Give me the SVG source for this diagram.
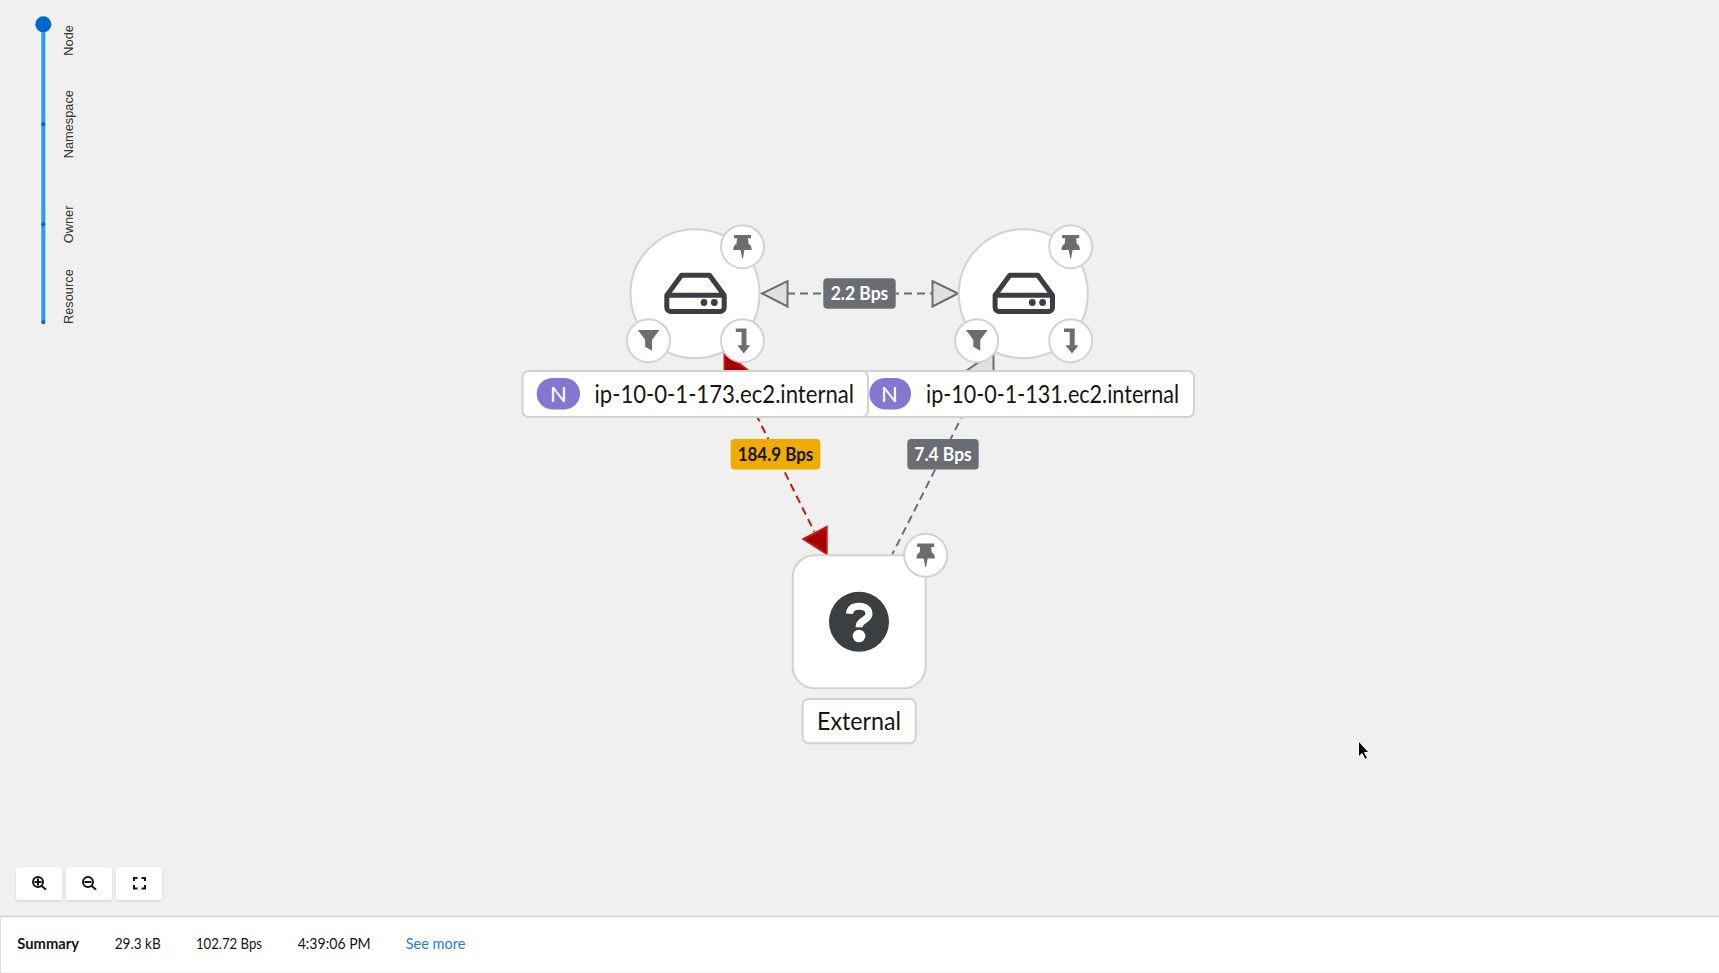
<svg xmlns="http://www.w3.org/2000/svg" xmlns:xlink="http://www.w3.org/1999/xlink" width="1719" height="973" viewBox="0 0 1719 973">
<style>
text{font-family:"Lato","Open Sans",sans-serif}
.node{fill:#fff;stroke:#d2d2d2;stroke-width:2}
.badge{fill:#fff;stroke:#d2d2d2;stroke-width:2}
.ic{fill:#6a6e73}
.lbl{fill:#fff;stroke:#d2d2d2;stroke-width:2}
.pill{fill:#8476d1}
.lt{font-size:24.5px;fill:#151515}
.nt{font-size:22px;fill:#fff;text-anchor:middle}
.el{font-size:18.5px;font-weight:700}
.dg{fill:none;stroke:#6a6e73;stroke-width:2;stroke-dasharray:8 5}
.dr{fill:none;stroke:#c9190b;stroke-width:2;stroke-dasharray:8 5}
.ag{fill:#e0e0e0;stroke:#6a6e73;stroke-width:2}
.ar{fill:#a30000;stroke:#c9190b;stroke-width:2}
.sl{font-family:"Liberation Sans",Arial,sans-serif;font-size:12.8px;fill:#333}
.st{font-size:14.5px;fill:#151515}
.tb{fill:#fff;filter:url(#sh)}
.ti{fill:none;stroke:#151515;stroke-width:2}
</style>
<defs>
<filter id="sh" x="-20%" y="-20%" width="140%" height="140%"><feDropShadow dx="0" dy="1" stdDeviation="1.2" flood-color="#000" flood-opacity=".14"/></filter>
<g id="pin"><path class="ic" d="M-8.5-11.7H8.5V-8.4H5.5L6-3C8.2-2 9.2-.3 9.2 3.3H-9.2C-9.2-.3-8.2-2-6-3L-5.5-8.4H-8.5ZM-2 3H2L.4 11.7H-.4Z"/></g>
<g id="filt"><path class="ic" d="M-10.7-10.7H11L3.6-1V10L-3.4 6V-1Z"/></g>
<g id="coll"><path class="ic" d="M-6.7-12.3H4V4.5H7.8L1.3 12.7-5.2 4.5H-1V-8.7H-6.7Z"/></g>
<g id="hdd"><path fill="none" stroke="#3c3f42" stroke-width="5" stroke-linejoin="round" d="M-28.7 1.7-14-18.3H14L28.7 1.7V14A4 4 0 0 1 24.7 18H-24.7A4 4 0 0 1-28.7 14ZM-28.7 1.7H28.7"/><circle cx="8.5" cy="9" r="3.4" fill="#3c3f42"/><circle cx="18.8" cy="9" r="3.4" fill="#3c3f42"/></g>
</defs>
<rect width="1719" height="973" fill="#f0f0f0"/>

<g id="connectors">
<path class="dg" d="M787 293.5H932"/>
<polygon class="ag" points="762,293.5 787.5,281 787.5,306.5"/>
<polygon class="ag" points="958,293.5 932.5,281 932.5,306.5"/>
<path class="dr" d="M727 356 814.3 531.7"/>
<polygon class="ar" points="724.5,352 750,372 724.5,372"/>
<polygon class="ar" points="803.5,539 826.7,527 826.7,554"/>
<path class="dg" d="M988 365 892.3 554.3"/>
<polygon class="ag" points="993.5,352 993.5,373 963,373"/>
<g id="edge-label-1"><rect x="823.3" y="278.3" width="72.4" height="30.4" rx="4" fill="#6a6e73"/><text class="el" x="830.7" y="300.3" fill="#fff" textLength="57.6" lengthAdjust="spacingAndGlyphs">2.2 Bps</text></g>
<g id="edge-label-2"><rect x="730.7" y="439" width="89.6" height="30.4" rx="4" fill="#f0ab00"/><text class="el" x="737.7" y="461" fill="#151515" textLength="75.6" lengthAdjust="spacingAndGlyphs">184.9 Bps</text></g>
<g id="edge-label-3"><rect x="907.3" y="439" width="71.4" height="30.4" rx="4" fill="#6a6e73"/><text class="el" x="914.3" y="461" fill="#fff" textLength="57.4" lengthAdjust="spacingAndGlyphs">7.4 Bps</text></g>
</g>

<g id="node-131">
<circle class="node" cx="1023.3" cy="293.7" r="64.5"/>
<use xlink:href="#hdd" href="#hdd" x="1023.8" y="293.5"/>
<circle class="badge" cx="1070.7" cy="246.7" r="21.5"/><use xlink:href="#pin" href="#pin" x="1070.7" y="246.7"/>
<circle class="badge" cx="976.7" cy="340.7" r="21.5"/><use xlink:href="#filt" href="#filt" x="976.7" y="340.7"/>
<circle class="badge" cx="1070.7" cy="340.7" r="21.5"/><use xlink:href="#coll" href="#coll" x="1070.7" y="340.7"/>
<rect class="lbl" x="855" y="371" width="339" height="46" rx="6"/>
<rect class="pill" x="869.3" y="378" width="41.7" height="31.4" rx="15.7"/>
<text class="nt" x="889.5" y="401.5">N</text>
<text class="lt" x="926" y="402.5" textLength="253" lengthAdjust="spacingAndGlyphs">ip-10-0-1-131.ec2.internal</text>
</g>

<g id="node-173">
<circle class="node" cx="695" cy="293.7" r="64.5"/>
<use xlink:href="#hdd" href="#hdd" x="695.5" y="293.5"/>
<circle class="badge" cx="742.5" cy="246.7" r="21.5"/><use xlink:href="#pin" href="#pin" x="742.5" y="246.7"/>
<circle class="badge" cx="648.5" cy="340.7" r="21.5"/><use xlink:href="#filt" href="#filt" x="648.5" y="340.7"/>
<circle class="badge" cx="742.5" cy="340.7" r="21.5"/><use xlink:href="#coll" href="#coll" x="742.5" y="340.7"/>
<rect class="lbl" x="522.5" y="371" width="345.5" height="46" rx="6"/>
<rect class="pill" x="536.7" y="378" width="43.3" height="31.4" rx="15.7"/>
<text class="nt" x="558.3" y="401.5">N</text>
<text class="lt" x="594.5" y="402.5" textLength="259.5" lengthAdjust="spacingAndGlyphs">ip-10-0-1-173.ec2.internal</text>
</g>

<g id="node-external">
<rect class="node" x="792.7" y="555.3" width="133" height="133" rx="22"/>
<circle cx="859" cy="621.7" r="30" fill="#3c3f42"/>
<path fill="none" stroke="#fff" stroke-width="7" d="M-9.5-8C-9-13.5-5-15.5 0-15.5 6-15.5 10-12.5 10-8 10-1 0-2.5 0 5.5" transform="translate(859 621.7)"/>
<circle cx="859" cy="636" r="6.3" fill="#fff"/>
<circle class="badge" cx="925.7" cy="555.3" r="21.5"/><use xlink:href="#pin" href="#pin" x="925.7" y="555.3"/>
<rect class="lbl" x="802.7" y="699" width="113" height="44.3" rx="6"/>
<text class="lt" x="817" y="729.7" textLength="84" lengthAdjust="spacingAndGlyphs">External</text>
</g>

<g id="slider">
<rect x="41.3" y="24" width="4" height="299" rx="2" fill="#2b9af3"/>
<circle cx="43.3" cy="124.3" r="2" fill="#06c"/>
<circle cx="43.3" cy="224.3" r="2" fill="#06c"/>
<circle cx="43.3" cy="322.3" r="2" fill="#06c"/>
<circle cx="43.3" cy="24.3" r="8" fill="#06c"/>
<text class="sl" transform="translate(72.7 55.7) rotate(-90)">Node</text>
<text class="sl" transform="translate(72.7 158.3) rotate(-90)">Namespace</text>
<text class="sl" transform="translate(72.7 243.3) rotate(-90)">Owner</text>
<text class="sl" transform="translate(72.7 324) rotate(-90)">Resource</text>
</g>

<g id="toolbar">
<rect class="tb" x="16" y="867.3" width="46" height="32.7" rx="3"/>
<rect class="tb" x="66" y="867.3" width="46" height="32.7" rx="3"/>
<rect class="tb" x="116" y="867.3" width="46" height="32.7" rx="3"/>
<circle class="ti" cx="38" cy="882" r="5"/><path class="ti" d="M41.5 885.7 45.5 889.2M35.3 882H40.7M38 879.3V884.7" stroke-linecap="round"/>
<circle class="ti" cx="88" cy="882" r="5"/><path class="ti" d="M91.5 885.7 95.5 889.2M85.3 882H90.7" stroke-linecap="round"/>
<path class="ti" d="M134 881V878H137.5M141.5 878H145V881M145 885V888.5H141.5M137.5 888.5H134V885"/>
</g>

<g id="summary">
<rect x="0" y="916.5" width="1720" height="57" fill="#fff" stroke="#d2d2d2" stroke-width="1.5"/>
<text class="st" x="17.3" y="949" font-weight="700" textLength="61.7" lengthAdjust="spacingAndGlyphs">Summary</text>
<text class="st" x="114.7" y="949" textLength="46" lengthAdjust="spacingAndGlyphs">29.3 kB</text>
<text class="st" x="196" y="949" textLength="66" lengthAdjust="spacingAndGlyphs">102.72 Bps</text>
<text class="st" x="297.7" y="949" textLength="73" lengthAdjust="spacingAndGlyphs">4:39:06 PM</text>
<text class="st" x="405.7" y="949" style="fill:#1f7ad9" textLength="59.6" lengthAdjust="spacingAndGlyphs">See more</text>
</g>

<polygon points="1358.5,741 1358.5,757 1362,753.5 1365,759.5 1367.5,758 1364.5,752.5 1369,752.5" fill="#000" stroke="#fff" stroke-width="1"/>
</svg>
